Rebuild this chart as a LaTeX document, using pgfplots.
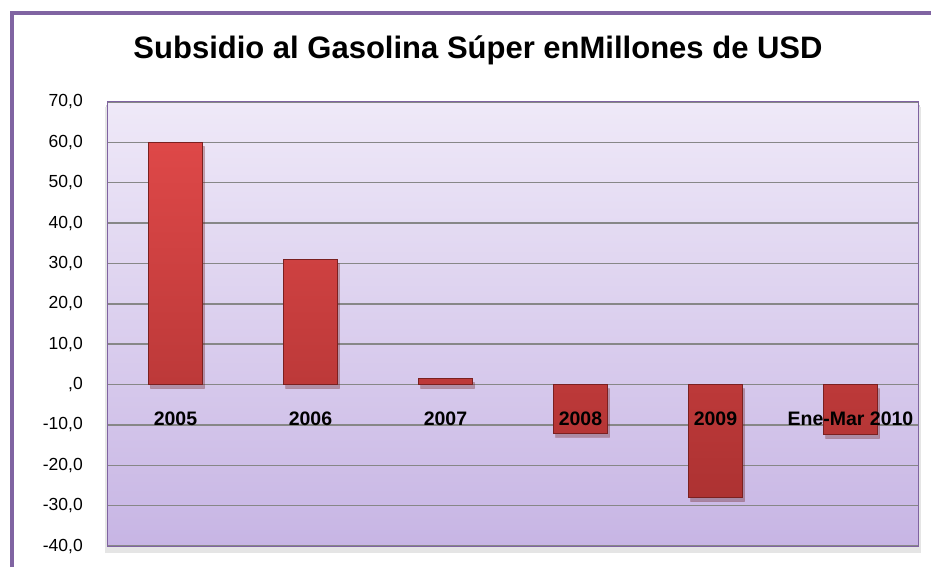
\documentclass[border=0pt]{standalone}
\usepackage{fontspec}
\setmainfont{Liberation Sans}
\usepackage{pgfplots}
\pgfplotsset{compat=1.18}
\definecolor{framepurple}{HTML}{8064A2}
\definecolor{bordpurple}{HTML}{7F63A1}
\definecolor{bgtop}{HTML}{EFE9F8}
\definecolor{bgbot}{HTML}{C7B5E4}
\definecolor{gridgray}{HTML}{878787}
\definecolor{bartop}{HTML}{DE4848}
\definecolor{barbot}{HTML}{AD3232}
\definecolor{baredge}{HTML}{7A2020}
\begin{document}
\begin{tikzpicture}
% soft shadow of the plot area
\fill[black!18] (-2pt,-5pt) rectangle (812pt,441pt);
\fill[black!10] (-3pt,-7pt) rectangle (813pt,439pt);
\begin{axis}[
  at={(0,0)}, anchor=south west,
  scale only axis,
  width=810pt, height=444pt,
  xmin=-0.5, xmax=5.5,
  ymin=-40, ymax=70,
  ytick={-40,-30,...,70},
  yticklabels={{-40,0},{-30,0},{-20,0},{-10,0},{,0},{10,0},{20,0},{30,0},{40,0},{50,0},{60,0},{70,0}},
  xtick=\empty,
  yticklabel style={font=\fontsize{17.5}{19}\selectfont, inner sep=0pt, xshift=-25pt},
  major tick length=0pt,
  ymajorgrids,
  grid style={gridgray, line width=1.4pt},
  axis line style={bordpurple, line width=1pt},
  axis background/.style={top color=bgtop, bottom color=bgbot},
  /pgf/number format/assume math mode=true,
  ybar, bar width=54pt,
  clip=false,
]
\addplot[draw=baredge, line width=0.8pt, top color=bartop, bottom color=barbot,
  preaction={fill=black, opacity=0.18, transform canvas={xshift=2pt,yshift=-4pt}}]
  coordinates {(0,60.0) (1,31.0) (2,1.5) (3,-12.1) (4,-28.0) (5,-12.4)};
\begin{scope}[every node/.style={font=\fontsize{19.5}{21}\selectfont\bfseries, anchor=center}]
\node at (axis cs:0,-8.6) {2005};
\node at (axis cs:1,-8.6) {2006};
\node at (axis cs:2,-8.6) {2007};
\node at (axis cs:3,-8.6) {2008};
\node at (axis cs:4,-8.6) {2009};
\node at (axis cs:5,-8.6) {Ene-Mar 2010};
\end{scope}
\end{axis}
\node[font=\fontsize{31}{34}\selectfont\bfseries] at ([xshift=-35pt,yshift=52pt]current axis.north) {Subsidio al Gasolina Súper enMillones de USD};
\useasboundingbox ([xshift=-108pt,yshift=-21pt]current axis.south west) rectangle ([xshift=13pt,yshift=102pt]current axis.north east);
\draw[framepurple, line width=4pt] ([xshift=-96pt,yshift=-21pt]current axis.south west) -- ([xshift=-96pt,yshift=89pt]current axis.north west) -- ([xshift=13pt,yshift=89pt]current axis.north east);
\end{tikzpicture}
\end{document}
